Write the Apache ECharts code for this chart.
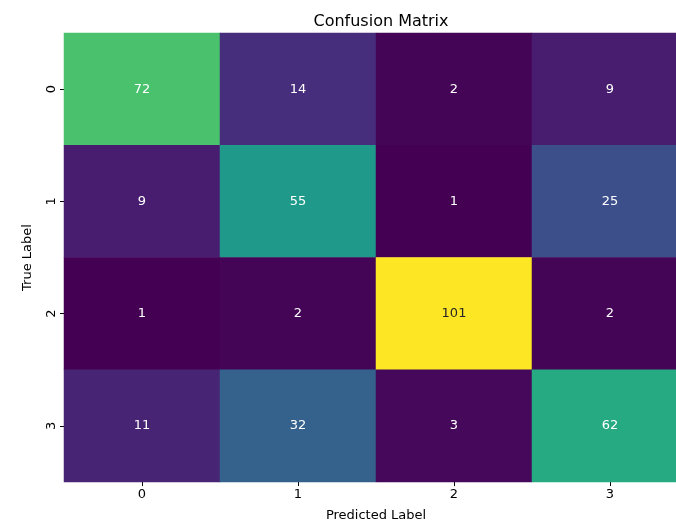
<!DOCTYPE html>
<html>
<head>
<meta charset="utf-8">
<script src="https://cdn.jsdelivr.net/npm/echarts@6/dist/echarts.min.js"></script>
<style>
  html, body { margin: 0; padding: 0; background: #fff; }
  #chart { width: 676px; height: 524px; }
</style>
</head>
<body>
<div id="chart"></div>
<script>
// Class labels for both axes
const predictedLabels = ['0', '1', '2', '3'];
const trueLabels = ['0', '1', '2', '3'];

// Counts per true class (rows), one value per predicted class (columns)
const row0 = [72, 14, 2, 9];
const row1 = [9, 55, 1, 25];
const row2 = [1, 2, 101, 2];
const row3 = [11, 32, 3, 62];
const matrixRows = [row0, row1, row2, row3];

// Viridis colour ramp
const viridis = [
  '#440154', '#471365', '#482475', '#463480', '#414487', '#3b528b',
  '#355f8d', '#2f6c8e', '#2a788e', '#25848e', '#21918c', '#1e9c89',
  '#22a884', '#2fb47c', '#44bf70', '#5ec962', '#7ad151', '#9bd93c',
  '#bddf26', '#dfe318', '#fde725'
];

let vMin = Infinity, vMax = -Infinity;
matrixRows.forEach(r => r.forEach(v => { vMin = Math.min(vMin, v); vMax = Math.max(vMax, v); }));

const cells = [];
matrixRows.forEach((r, yi) => {
  r.forEach((v, xi) => {
    const t = (v - vMin) / (vMax - vMin);
    cells.push({
      value: [xi, yi, v],
      label: { color: t > 0.85 ? '#262626' : '#ffffff' }
    });
  });
});

const font = 'DejaVu Sans';
const chart = echarts.init(document.getElementById('chart'));
chart.setOption({
  animation: false,
  backgroundColor: '#ffffff',
  title: {
    text: 'Confusion Matrix',
    left: 376,
    textAlign: 'center',
    top: 9,
    textStyle: { fontFamily: font, fontSize: 16, fontWeight: 'normal', color: '#000' }
  },
  grid: { left: 64, right: -12, top: 33, bottom: 42, outerBoundsMode: 'none' },
  xAxis: {
    type: 'category',
    data: predictedLabels,
    name: 'Predicted Label',
    nameLocation: 'middle',
    nameGap: 27,
    nameTextStyle: { fontFamily: font, fontSize: 13, color: '#000' },
    axisLine: { show: false },
    axisTick: { show: true, alignWithLabel: true, length: 4, lineStyle: { color: '#000' } },
    axisLabel: { fontFamily: font, fontSize: 13, color: '#000', margin: 6 },
    splitArea: { show: false },
    splitLine: { show: false }
  },
  yAxis: {
    type: 'category',
    data: trueLabels,
    inverse: true,
    name: 'True Label',
    nameLocation: 'middle',
    nameGap: 30,
    nameRotate: 90,
    nameTextStyle: { fontFamily: font, fontSize: 13, color: '#000' },
    axisLine: { show: false },
    axisTick: { show: true, alignWithLabel: true, length: 4, lineStyle: { color: '#000' } },
    axisLabel: { fontFamily: font, fontSize: 13, color: '#000', rotate: 90, margin: 6 },
    splitArea: { show: false },
    splitLine: { show: false }
  },
  visualMap: {
    show: false,
    min: vMin,
    max: vMax,
    dimension: 2,
    inRange: { color: viridis }
  },
  series: [{
    type: 'heatmap',
    data: cells,
    itemStyle: { borderWidth: 0 },
    label: {
      show: true,
      fontFamily: font,
      fontSize: 13,
      formatter: p => String(p.value[2])
    },
    emphasis: { disabled: true }
  }]
});
</script>
</body>
</html>
